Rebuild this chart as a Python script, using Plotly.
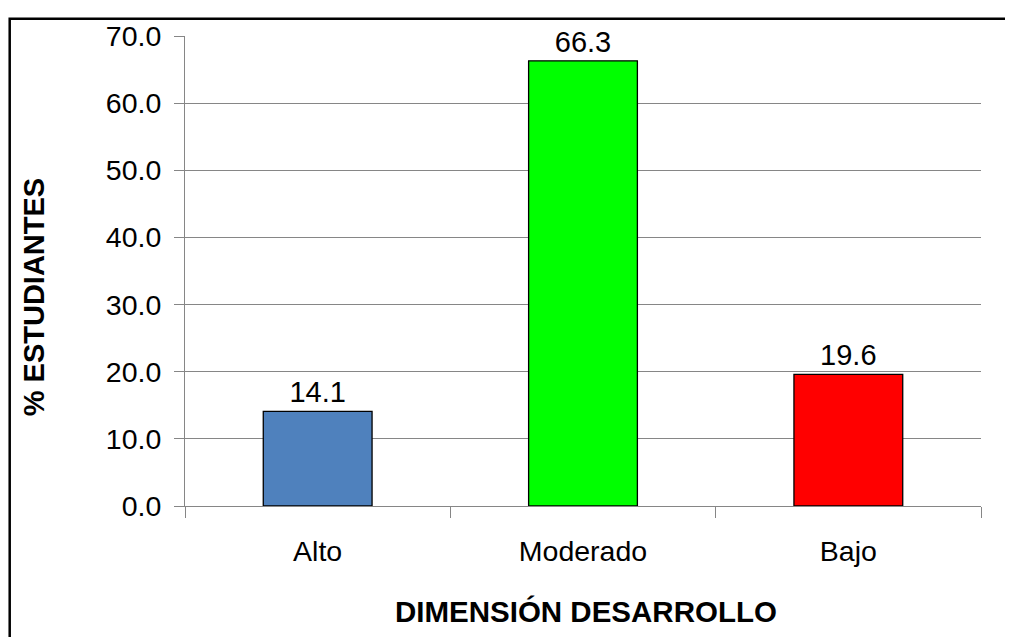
import plotly.graph_objects as go

categories = ["Alto", "Moderado", "Bajo"]
values = [14.1, 66.3, 19.6]
bar_colors = ["#4F81BD", "#00FF00", "#FF0000"]
y_ticks = [0, 10, 20, 30, 40, 50, 60, 70]
y_title = "% ESTUDIANTES"
x_title = "DIMENSIÓN DESARROLLO"

FONT = "Liberation Sans, Arial, sans-serif"
W, H = 1013, 637
OFF = 8  # page body margin
# plot area in screenshot pixels: x 185..981, y 32..506
ML, MT = 185 - OFF, 32 - OFF
PW, PH = 981 - 185, 506 - 32
MR, MB = W - ML - PW, H - MT - PH

def px_x(sx):
    return (sx - OFF - ML) / PW

def px_y(sy):
    return (MT + PH - (sy - OFF)) / PH

fig = go.Figure()
fig.add_trace(go.Bar(
    x=categories,
    y=values,
    marker=dict(color=bar_colors, line=dict(color="#000000", width=1.3)),
    text=[f"{v:.1f}" for v in values],
    textposition="outside",
    textfont=dict(family=FONT, size=29, color="#000000"),
    cliponaxis=False,
    hoverinfo="skip",
))

fig.update_layout(
    width=W, height=H,
    margin=dict(l=ML, r=MR, t=MT, b=MB),
    paper_bgcolor="#FFFFFF",
    plot_bgcolor="#FFFFFF",
    showlegend=False,
    bargap=0.59,
    font=dict(family=FONT, size=28.5, color="#000000"),
    xaxis=dict(
        type="category",
        showline=True, linecolor="#868686", linewidth=1,
        ticks="outside", tickson="boundaries", ticklen=11, tickcolor="#868686", tickwidth=1,
        showgrid=False,
        tickfont=dict(family=FONT, size=28.5, color="#000000"),
        ticklabelstandoff=20,
    ),
    yaxis=dict(
        range=[0, 70],
        tickvals=y_ticks,
        tickformat=".1f",
        showline=True, linecolor="#868686", linewidth=1,
        ticks="outside", ticklen=10, tickcolor="#868686", tickwidth=1,
        showgrid=True, gridcolor="#868686", gridwidth=1,
        zeroline=False,
        tickfont=dict(family=FONT, size=28.5, color="#000000"),
        ticklabelstandoff=7,
    ),
    shapes=[dict(
        type="rect", xref="paper", yref="paper",
        x0=px_x(9.7), x1=px_x(1030), y0=px_y(660), y1=px_y(14.5),
        line=dict(color="#000000", width=2.5), fillcolor="rgba(0,0,0,0)", layer="above",
    )],
    annotations=[
        dict(text=f"<b>{y_title}</b>", xref="paper", yref="paper",
             x=px_x(33.5), y=px_y(296), xanchor="center", yanchor="middle",
             textangle=-90, showarrow=False,
             font=dict(family=FONT, size=29, color="#000000")),
        dict(text=f"<b>{x_title}</b>", xref="paper", yref="paper",
             x=px_x(586), y=px_y(612), xanchor="center", yanchor="middle",
             showarrow=False,
             font=dict(family=FONT, size=29.5, color="#000000")),
    ],
)

fig.write_html("out.html")
